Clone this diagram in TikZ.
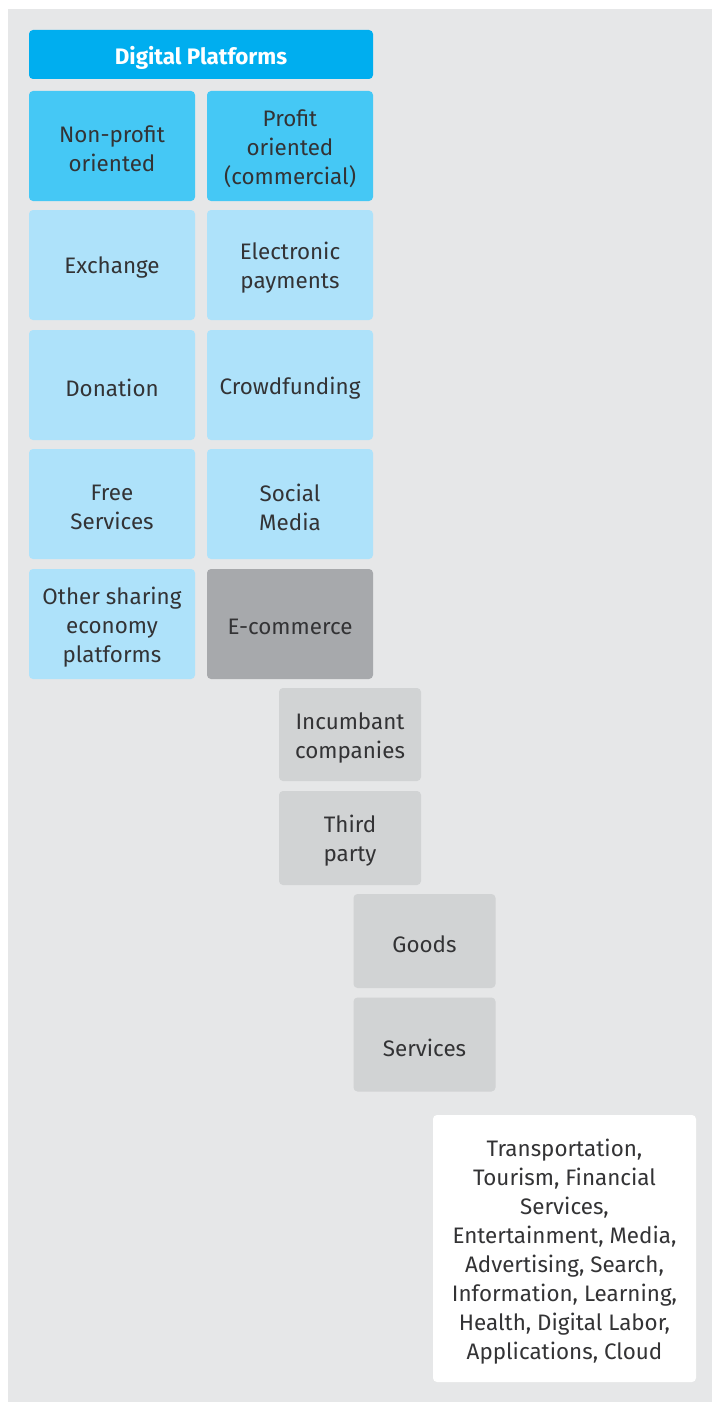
\documentclass[tikz,border=0pt]{standalone}
\usepackage{fontspec}
\setmainfont{Fira Sans}
\definecolor{bgc}{HTML}{E6E7E8}
\definecolor{headc}{HTML}{00AEEF}
\definecolor{midc}{HTML}{45C8F5}
\definecolor{lightc}{HTML}{AEE2FA}
\definecolor{darkg}{HTML}{A7A9AC}
\definecolor{lightg}{HTML}{D1D3D4}
\definecolor{txt}{HTML}{333335}
\begin{document}
\begin{tikzpicture}[x=1pt,y=-1pt,
  txtstyle/.style={inner sep=0pt, align=center, text=txt, yshift=-3pt,
    font=\fontsize{22.4}{29}\selectfont},
  box/.style={rounded corners=4pt, inner sep=0pt,
    label={[txtstyle]center:#1}},
  col/.style={box=#1, minimum width=166pt, minimum height=110pt},
  sub/.style={box=#1, fill=lightg, minimum width=142pt, minimum height=94pt},
  ]
\useasboundingbox (0,0) rectangle (712,1402);
\fill[bgc] (8,9) rectangle (712,1402);
\node[rounded corners=4pt, fill=headc, minimum width=344pt, minimum height=49pt,
  label={[txtstyle, text=white, font=\fontsize{22.4}{29}\selectfont\bfseries]center:Digital Platforms}] (dp) at (201,54.5) {};
\node[col={Non-profit\\oriented}, fill=midc] (np) at (112,146) {};
\node[col={Profit\\oriented\\(commercial)}, fill=midc] (pr) at (290,146) {};
\node[col={Exchange}, fill=lightc] (ex) at (112,265) {};
\node[col={Electronic\\payments}, fill=lightc] (ep) at (290,265) {};
\node[col={Donation}, fill=lightc] (do) at (112,385) {};
\node[col={Crowdfunding}, fill=lightc] (cf) at (290,385) {};
\node[col={Free\\Services}, fill=lightc] (fs) at (112,504) {};
\node[col={Social\\Media}, fill=lightc] (sm) at (290,504) {};
\node[col={Other sharing\\economy\\platforms}, fill=lightc] (os) at (112,624) {};
\node[col={E-commerce}, fill=darkg] (ec) at (290,624) {};
\node[sub={Incumbant\\companies}, minimum height=93pt] (ic) at (350,734.5) {};
\node[sub={Third\\party}] (tp) at (350,838) {};
\node[sub={Goods}] (go) at (424.5,941) {};
\node[sub={Services}] (se) at (424.5,1044.5) {};
\node[box={Transportation,\\Tourism, Financial\\Services,\\Entertainment, Media,\\Advertising, Search,\\Information, Learning,\\Health, Digital Labor,\\Applications, Cloud}, fill=white, minimum width=263pt, minimum height=267pt] (sec) at (564.5,1248.5) {};
\end{tikzpicture}
\end{document}
